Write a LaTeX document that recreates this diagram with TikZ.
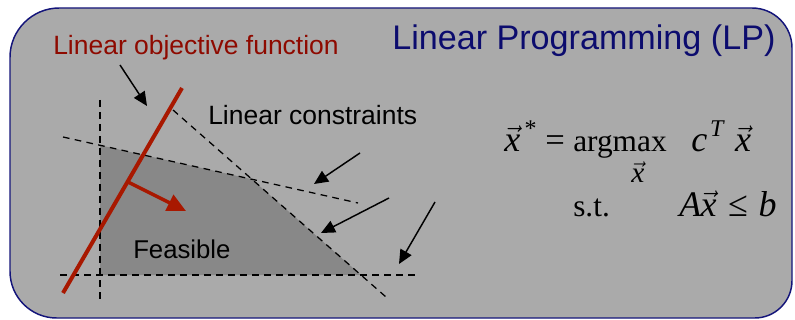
\documentclass[tikz,border=0pt]{standalone}
\usepackage{fontspec}
\setmainfont{Liberation Sans}
\newfontfamily\tms{Liberation Serif}
\usetikzlibrary{arrows.meta}
\newcommand{\myvx}{\ensuremath{\vec{\mbox{\itshape x}}}}
\newcommand{\mysup}[1]{\raisebox{0.42em}{\fontsize{18}{20}\selectfont #1}}
\definecolor{boxgray}{HTML}{AAAAAA}
\definecolor{feasgray}{HTML}{888888}
\definecolor{navyb}{HTML}{14157A}
\definecolor{titleblue}{HTML}{0C0C6E}
\definecolor{objred}{HTML}{8E0A00}
\definecolor{linered}{HTML}{A81800}
\tikzset{
  dline/.style={line width=0.95pt, dash pattern=on 5pt off 4pt},
  blkarrow/.style={line width=1.1pt, -{Triangle[length=10.5pt,width=9.5pt]}},
  lbl/.style={inner sep=0pt, anchor=base west},
  mth/.style={inner sep=0pt, anchor=base west, font=\tms\fontsize{23.5}{28}\selectfont},
  mthi/.style={inner sep=0pt, anchor=base west, font=\tms\fontsize{27}{32}\selectfont}
}
\begin{document}
\begin{tikzpicture}[x=0.75pt,y=-0.75pt]
\useasboundingbox (0,0) rectangle (795,320);
\fill[white] (0,0) rectangle (795,320);
% frame
\path[draw=navyb, fill=boxgray, line width=1.1pt]
  (10,160) [rounded corners=37pt] -- (10,8) [rounded corners=30pt] -- (792,8)
  [rounded corners=28pt] -- (792,318) [rounded corners=35pt] -- (10,318) -- cycle;
% constraint lines endpoints
\coordinate (v1) at (100,100);  \coordinate (v2) at (100,303);
\coordinate (h1) at (60,275);   \coordinate (h2) at (418,275);
\coordinate (s1) at (63,137);   \coordinate (s2) at (358,203);
\coordinate (t1) at (173,110);  \coordinate (t2) at (386,297);
\coordinate (p1) at (intersection of s1--s2 and v1--v2);
\coordinate (p2) at (intersection of s1--s2 and t1--t2);
\coordinate (p3) at (intersection of t1--t2 and h1--h2);
\coordinate (p4) at (intersection of v1--v2 and h1--h2);
% feasible region
\fill[feasgray] (p1) -- (p2) -- (p3) -- (p4) -- cycle;
% dashed constraints
\draw[dline] (v1) -- (v2);
\draw[dline] (h1) -- (h2);
\draw[dline] (s1) -- (s2);
\draw[dline] (t1) -- (t2);
% objective line
\coordinate (r1) at (63,293); \coordinate (r2) at (182,88);
\draw[linered, line width=3pt] (r1) -- (r2);
\coordinate (ra) at (128,182); \coordinate (rb) at (186,211);
\draw[linered, line width=2.6pt, -{Triangle[length=14pt,width=13pt]}] (ra) -- (rb);
% labels
\node[lbl, text=objred, font=\fontsize{19.85}{24}\selectfont] (objlbl) at (53,55) {Linear objective function};
\node[lbl, text=titleblue, font=\fontsize{25.6}{30}\selectfont] (title) at (392,50) {Linear Programming (LP)};
\node[lbl, font=\fontsize{19.85}{24}\selectfont] (conlbl) at (208,125) {Linear constraints};
\node[lbl, font=\fontsize{19.3}{24}\selectfont] (feas) at (133,258) {Feasible};
% black arrows
\coordinate (a1s) at (120,65);  \coordinate (a1e) at (147,106);
\coordinate (a2s) at (360,153); \coordinate (a2e) at (314,184);
\coordinate (a3s) at (389,198); \coordinate (a3e) at (321,233);
\coordinate (a4s) at (435,202); \coordinate (a4e) at (399,264);
\draw[blkarrow] (a1s) -- (a1e);
\draw[blkarrow] (a2s) -- (a2e);
\draw[blkarrow] (a3s) -- (a3e);
\draw[blkarrow] (a4s) -- (a4e);
% formula
\node[mthi] (xs) at (504,152) {\myvx\hspace{0.12em}\mysup{*}};
\node[mth, font=\tms\fontsize{26}{30}\selectfont] (eq) at (545,152) {=};
\node[mth] (am) at (573,152) {argmax};
\node[mthi, font=\tms\fontsize{22}{26}\selectfont] (sub) at (631,183) {\myvx};
\node[mthi] (ctx) at (691,152) {\itshape c\hspace{0.08em}\mysup{\itshape T}\hspace{0.32em}\myvx};
\node[mth] (st) at (573,217) {s.t.};
\node[mthi] (axb) at (679,217) {\itshape A\hspace{-0.02em}\myvx\hspace{0.32em}{\upshape ≤}\hspace{0.3em}b};
\end{tikzpicture}
\end{document}
